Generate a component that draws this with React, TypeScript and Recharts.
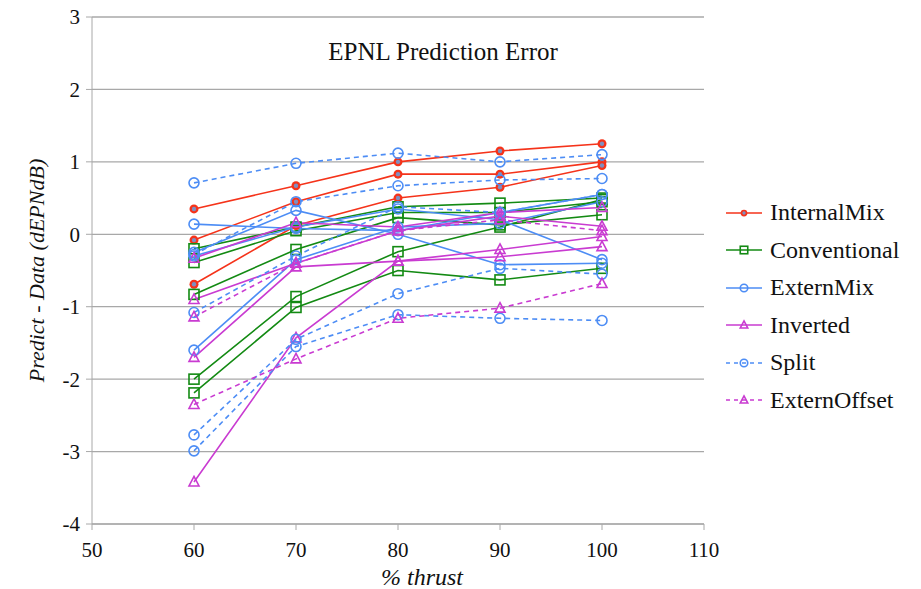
import React from "react";
import { LineChart, Line, XAxis, YAxis, CartesianGrid } from "recharts";

// thrust settings (x axis)
const thrust = [60, 70, 80, 90, 100];

// each family has several runs, one line per run
const internalMix = [
  [0.35, 0.67, 1.0, 1.15, 1.25],
  [-0.08, 0.45, 0.83, 0.83, 1.0],
  [-0.69, 0.12, 0.5, 0.65, 0.95],
];
const conventional = [
  [-0.2, 0.1, 0.38, 0.43, 0.5],
  [-0.39, 0.05, 0.3, 0.3, 0.45],
  [-0.83, -0.21, 0.23, 0.13, 0.27],
  [-2.0, -0.86, -0.24, 0.1, 0.48],
  [-2.19, -1.01, -0.5, -0.63, -0.47],
];
const externMix = [
  [0.14, 0.08, 0.05, 0.3, 0.55],
  [-0.25, 0.33, 0.0, -0.42, -0.4],
  [-0.3, 0.1, 0.35, 0.2, -0.35],
  [-1.6, -0.35, 0.1, 0.15, 0.45],
];
const inverted = [
  [-0.33, 0.16, 0.1, 0.3, 0.37],
  [-0.9, -0.4, 0.05, 0.25, 0.11],
  [-1.7, -0.45, -0.37, -0.31, -0.17],
  [-3.42, -1.43, -0.37, -0.21, -0.03],
];
const split = [
  [0.71, 0.98, 1.12, 1.0, 1.1],
  [-0.28, 0.45, 0.67, 0.75, 0.77],
  [-1.08, -0.3, 0.38, 0.3, 0.55],
  [-2.77, -1.45, -0.82, -0.47, -0.55],
  [-2.99, -1.55, -1.11, -1.16, -1.19],
];
const externOffset = [
  [-1.14, -0.4, 0.05, 0.2, 0.05],
  [-2.35, -1.72, -1.16, -1.02, -0.68],
];

const xTicks = [50, 60, 70, 80, 90, 100, 110];
const yTicks = [-4, -3, -2, -1, 0, 1, 2, 3];

const FONT = "'Times New Roman', Times, 'Liberation Serif', 'DejaVu Serif', 'Noto Serif', serif";

type Shape = "dot" | "square" | "circle" | "triangle";

const families = [
  { key: "im", name: "InternalMix", runs: internalMix, color: "#f5331a", shape: "dot" as Shape, dashed: false },
  { key: "cv", name: "Conventional", runs: conventional, color: "#138a13", shape: "square" as Shape, dashed: false },
  { key: "em", name: "ExternMix", runs: externMix, color: "#4d8df5", shape: "circle" as Shape, dashed: false },
  { key: "iv", name: "Inverted", runs: inverted, color: "#c93bd1", shape: "triangle" as Shape, dashed: false },
  { key: "sp", name: "Split", runs: split, color: "#4d8df5", shape: "circle" as Shape, dashed: true },
  { key: "eo", name: "ExternOffset", runs: externOffset, color: "#c93bd1", shape: "triangle" as Shape, dashed: true },
];

// wide table: one row per thrust value
const rows = thrust.map((x, i) => {
  const row: Record<string, number> = { x };
  families.forEach((f) => f.runs.forEach((run, j) => (row[`${f.key}${j}`] = run[i])));
  return row;
});

function marker(shape: Shape, color: string, cx: number, cy: number, k?: string, s = 1) {
  if (shape === "dot")
    return (
      <g key={k}>
        <circle cx={cx} cy={cy} r={4.5 * s} fill={color} />
        <circle cx={cx} cy={cy} r={2.2 * s} fill="#7f8fc0" />
      </g>
    );
  if (shape === "square")
    return <rect key={k} x={cx - 5 * s} y={cy - 5 * s} width={10 * s} height={10 * s} fill="none" stroke={color} strokeWidth={1.6} />;
  if (shape === "circle")
    return <circle key={k} cx={cx} cy={cy} r={5 * s} fill="none" stroke={color} strokeWidth={1.6} />;
  return (
    <path
      key={k}
      d={`M${cx},${cy - 5.5 * s}L${cx + 5 * s},${cy + 4 * s}L${cx - 5 * s},${cy + 4 * s}Z`}
      fill="none"
      stroke={color}
      strokeWidth={1.6}
    />
  );
}

function Legend() {
  return (
    <div style={{ position: "absolute", left: 726, top: 194, fontFamily: FONT, fontSize: 24, color: "#111" }}>
      {families.map((f) => (
        <div key={f.key} style={{ display: "flex", alignItems: "center", height: 37.5 }}>
          <svg width={38} height={16} style={{ marginRight: 6 }}>
            <line x1={0} y1={8} x2={36} y2={8} stroke={f.color} strokeWidth={1.6} strokeDasharray={f.dashed ? "4 4" : undefined} />
            {marker(f.shape, f.color, 18, 8, undefined, 0.75)}
          </svg>
          <span>{f.name}</span>
        </div>
      ))}
    </div>
  );
}

export default function App() {
  return (
    <div style={{ position: "absolute", left: 0, top: 0, width: 921, height: 589, background: "#fff" }}>
      <LineChart width={921} height={589} data={rows} margin={{ top: 17, right: 217, bottom: 24, left: 0 }}>
        <CartesianGrid vertical={false} stroke="#a8a8a8" strokeWidth={1.3} />
        <XAxis
          dataKey="x"
          type="number"
          domain={[50, 110]}
          ticks={xTicks}
          height={41}
          stroke="#a8a8a8"
          tickSize={6}
          tickMargin={12}
          tick={{ fill: "#111", fontSize: 21, fontFamily: FONT }}
          label={{
            content: ({ viewBox }: any) => (
              <text x={422} y={viewBox.y + 61} textAnchor="middle" fontFamily={FONT} fontSize={24} fontStyle="italic" fill="#111">
                % thrust
              </text>
            ),
          }}
        />
        <YAxis
          type="number"
          domain={[-4, 3]}
          ticks={yTicks}
          width={92}
          stroke="#a8a8a8"
          tickSize={6}
          tickMargin={6}
          tick={{ fill: "#111", fontSize: 21, fontFamily: FONT }}
          label={{
            content: ({ viewBox }: any) => (
              <text
                x={viewBox.x + 36}
                y={viewBox.y + viewBox.height / 2}
                transform={`rotate(-90 ${viewBox.x + 36} ${viewBox.y + viewBox.height / 2})`}
                textAnchor="middle"
                dominantBaseline="central"
                fontFamily={FONT}
                fontSize={22}
                fontStyle="italic"
                fill="#111"
              >
                Predict - Data (dEPNdB)
              </text>
            ),
          }}
        />
        {families.flatMap((f) =>
          f.runs.map((_, j) => (
            <Line
              key={`${f.key}${j}`}
              dataKey={`${f.key}${j}`}
              type="linear"
              stroke={f.color}
              strokeWidth={1.6}
              strokeDasharray={f.dashed ? "5 4" : undefined}
              isAnimationActive={false}
              dot={(p: any) => marker(f.shape, f.color, p.cx, p.cy, `${f.key}${j}-${p.index}`)}
              activeDot={false}
            />
          ))
        )}
      </LineChart>
      <div
        style={{
          position: "absolute",
          left: 0,
          width: 886,
          top: 38,
          textAlign: "center",
          fontFamily: FONT,
          fontSize: 25,
          color: "#111",
        }}
      >
        EPNL Prediction Error
      </div>
      <Legend />
    </div>
  );
}
